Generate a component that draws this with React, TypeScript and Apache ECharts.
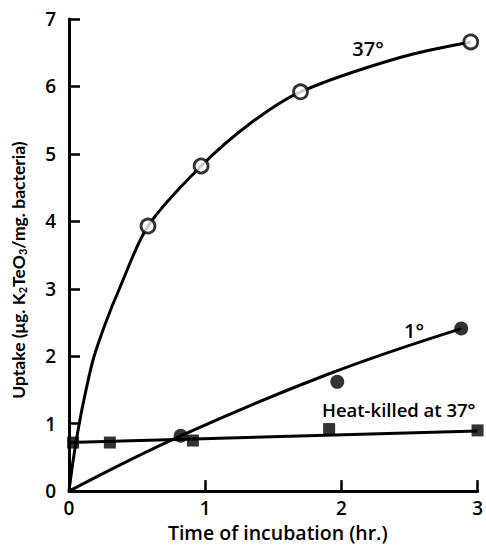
import React, { useEffect, useRef } from "react";
import * as echarts from "echarts";

const xTicks = [0, 1, 2, 3];
const yTicks = [0, 1, 2, 3, 4, 5, 6, 7];

// 37° – measured points (open circles)
const hours37 = [0.58, 0.97, 1.7, 2.95];
const uptake37 = [3.93, 4.82, 5.92, 6.66];
// 37° – drawn curve
const curve37Hours = [0, 0.03, 0.075, 0.125, 0.18, 0.27, 0.37, 0.58, 0.97, 1.33, 1.7, 2.43, 2.95];
const curve37Uptake = [0, 0.45, 1.0, 1.5, 1.97, 2.5, 3.0, 3.93, 4.82, 5.45, 5.92, 6.43, 6.66];

// 1° – measured points (filled circles)
const hours1 = [0.82, 1.97, 2.88];
const uptake1 = [0.82, 1.62, 2.41];
// 1° – drawn line
const curve1Hours = [0, 0.82, 1.91, 2.88];
const curve1Uptake = [0, 0.82, 1.74, 2.41];

// Heat-killed at 37° – measured points (filled squares)
const hoursHK = [0.03, 0.3, 0.91, 1.91, 3.0];
const uptakeHK = [0.72, 0.72, 0.75, 0.92, 0.9];
// Heat-killed – drawn line
const lineHKHours = [0, 3];
const lineHKUptake = [0.72, 0.89];

const FONT = "'Open Sans', 'DejaVu Sans', sans-serif";
const FONT2 = "Lato, 'Open Sans', sans-serif";

const zip = (xs: number[], ys: number[]) => xs.map((x, i) => [x, ys[i]]);

export default function App() {
  const ref = useRef<HTMLDivElement>(null);
  useEffect(() => {
    if (!ref.current) return;
    const chart = echarts.init(ref.current, null, { renderer: "svg" });
    const lineStyle = { color: "#000", width: 3 };
    chart.setOption({
      animation: false,
      backgroundColor: "#fff",
      grid: { left: 69, right: 8, top: 19, bottom: 54 },
      xAxis: {
        type: "value",
        min: xTicks[0],
        max: xTicks[xTicks.length - 1],
        interval: 1,
        splitLine: { show: false },
        axisLine: { lineStyle: { color: "#000", width: 3 } },
        axisTick: { inside: true, length: 11, lineStyle: { color: "#000", width: 2.5 } },
        axisLabel: {
          color: "#000",
          fontFamily: FONT,
          fontSize: 19,
          fontWeight: 600,
          margin: 7,
        },
        name: "Time of incubation (hr.)",
        nameLocation: "middle",
        nameGap: 22,
        nameTextStyle: { color: "#000", fontFamily: FONT, fontSize: 19.5, fontWeight: 600, padding: [0, 0, 0, 9] },
      },
      yAxis: {
        type: "value",
        min: yTicks[0],
        max: yTicks[yTicks.length - 1],
        interval: 1,
        splitLine: { show: false },
        axisLine: { show: true, lineStyle: { color: "#000", width: 3 } },
        axisTick: { show: true, inside: true, length: 11, lineStyle: { color: "#000", width: 2.5 } },
        axisLabel: {
          color: "#000",
          fontFamily: FONT,
          fontSize: 19,
          fontWeight: 600,
          margin: 13,
        },
      },
      graphic: [
        {
          type: "text",
          x: 18,
          y: 270,
          rotation: Math.PI / 2,
          style: {
            text: "Uptake (μg. K{s|2}TeO{s|3}/mg. bacteria)",
            font: `bold 17.5px ${FONT2}`,
            fill: "#000",
            align: "center",
            verticalAlign: "middle",
            rich: {
              s: { fontSize: 11, fontFamily: FONT2, fontWeight: "bold", verticalAlign: "bottom", padding: [8, 0, 0, 0], fill: "#000" },
            },
          },
        },
        {
          type: "text",
          x: 368,
          y: 48,
          style: { text: "37°", font: `600 20px ${FONT}`, fill: "#000", align: "center", verticalAlign: "middle" },
        },
        {
          type: "text",
          x: 414,
          y: 330,
          style: { text: "1°", font: `600 20px ${FONT}`, fill: "#000", align: "center", verticalAlign: "middle" },
        },
        {
          type: "text",
          x: 322,
          y: 409,
          style: { text: "Heat-killed at 37°", font: `600 18.5px ${FONT}`, fill: "#000", align: "left", verticalAlign: "middle" },
        },
      ],
      series: [
        {
          type: "line",
          data: zip(curve37Hours, curve37Uptake),
          smooth: 0.3,
          showSymbol: false,
          lineStyle,
          z: 2,
        },
        {
          type: "line",
          data: zip(curve1Hours, curve1Uptake),
          smooth: 0.4,
          showSymbol: false,
          lineStyle,
          z: 2,
        },
        {
          type: "line",
          data: zip(lineHKHours, lineHKUptake),
          showSymbol: false,
          lineStyle,
          z: 2,
        },
        {
          type: "scatter",
          data: zip(hours37, uptake37),
          symbol: "circle",
          symbolSize: 14,
          clip: false,
          itemStyle: { color: "#fff", borderColor: "#000", borderWidth: 2.8 },
          z: 5,
        },
        {
          type: "scatter",
          data: zip(hours1, uptake1),
          symbol: "circle",
          symbolSize: 14,
          clip: false,
          itemStyle: { color: "#000" },
          z: 5,
        },
        {
          type: "scatter",
          data: zip(hoursHK, uptakeHK),
          symbol: "rect",
          symbolSize: 12,
          clip: false,
          itemStyle: { color: "#000" },
          z: 5,
        },
      ],
    });
    return () => chart.dispose();
  }, []);
  return (
    <div
      ref={ref}
      style={{ position: "absolute", left: 0, top: 0, width: 486, height: 547 }}
    />
  );
}
